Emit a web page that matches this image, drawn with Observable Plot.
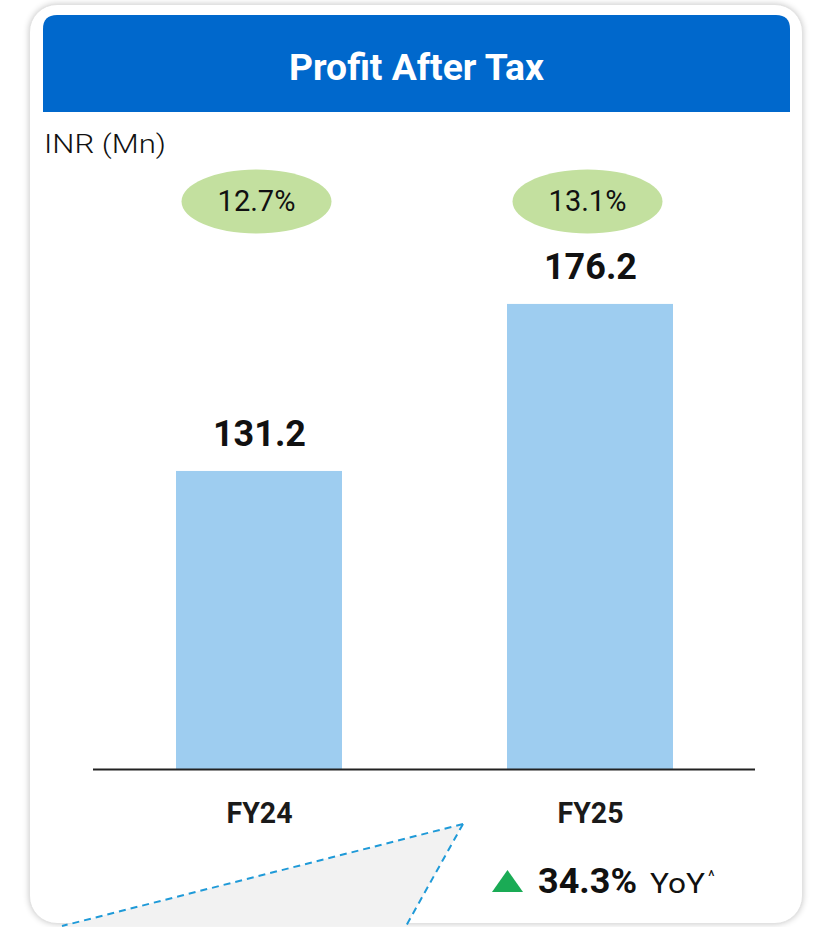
<!DOCTYPE html>
<html>
<head>
<meta charset="utf-8">
<script src="https://cdn.jsdelivr.net/npm/d3@7"></script>
<script src="https://cdn.jsdelivr.net/npm/@observablehq/plot@0.6"></script>
<style>
  html, body { margin: 0; padding: 0; background: #fff; }
  #wrap { position: relative; width: 815px; height: 927px; overflow: hidden; font-family: Roboto, "Noto Sans", sans-serif; }
  #card { position: absolute; left: 29px; top: 4px; width: 774px; height: 920px; border-radius: 28px;
          background: #fff; border: 1px solid #e2e2e2; box-shadow: 0 0 6px rgba(0,0,0,0.22); box-sizing: border-box; }
  #deco, #chart { position: absolute; left: 0; top: 0; }
</style>
</head>
<body>
<div id="wrap">
  <div id="card"></div>
  <svg id="deco" width="815" height="927" xmlns="http://www.w3.org/2000/svg"></svg>
  <div id="chart"></div>
</div>
<script>
// ---- data ----
const title = "Profit After Tax";
const unitLabel = "INR (Mn)";
const categories = ["FY24", "FY25"];
const values = [131.2, 176.2];
const marginLabels = ["12.7%", "13.1%"];
const yoyValue = "34.3%";
const yoyText = "YoY";
const yoyNote = "^";
// y axis is not zero-based in the original (bars drawn from a truncated base)
const yBase = 50.9;
const yTop = 204.2;

const data = categories.map((c, i) => ({cat: c, value: values[i], margin: marginLabels[i]}));

// ---- decoration (card header, unit, callout, yoy) ----
const deco = d3.select("#deco");
// callout (behind)
deco.append("polygon")
  .attr("points", "463,824 62,926 406,926")
  .attr("fill", "#f2f2f2");
deco.append("line").attr("x1", 463).attr("y1", 824).attr("x2", 62).attr("y2", 926)
  .attr("stroke", "#1f9ad8").attr("stroke-width", 2).attr("stroke-dasharray", "7,5");
deco.append("line").attr("x1", 463).attr("y1", 824).attr("x2", 406).attr("y2", 926)
  .attr("stroke", "#1f9ad8").attr("stroke-width", 2).attr("stroke-dasharray", "7,5");
// header
deco.append("path")
  .attr("d", "M43,112 L43,29 Q43,15 57,15 L776,15 Q790,15 790,29 L790,112 Z")
  .attr("fill", "#0068cc");
deco.append("text").text(title)
  .attr("x", 416.5).attr("y", 80).attr("text-anchor", "middle")
  .attr("font-family", "Roboto").attr("font-weight", "bold").attr("font-size", 36)
  .attr("fill", "#fff").attr("textLength", 255).attr("lengthAdjust", "spacingAndGlyphs");
deco.append("text").text(unitLabel)
  .attr("x", 44).attr("y", 153)
  .attr("font-family", "Roboto").attr("font-weight", 300).attr("font-size", 26)
  .attr("fill", "#111").attr("textLength", 122).attr("lengthAdjust", "spacingAndGlyphs");
// yoy
deco.append("polygon").attr("points", "492,892 507.5,870 523,892").attr("fill", "#1aab55");
deco.append("text").text(yoyValue)
  .attr("x", 538).attr("y", 893)
  .attr("font-family", "Roboto").attr("font-weight", "bold").attr("font-size", 35)
  .attr("fill", "#111").attr("textLength", 99).attr("lengthAdjust", "spacingAndGlyphs");
deco.append("text").text(yoyText)
  .attr("x", 650).attr("y", 893)
  .attr("font-family", "Roboto").attr("font-size", 28)
  .attr("fill", "#111").attr("textLength", 55).attr("lengthAdjust", "spacingAndGlyphs");
deco.append("text").text(yoyNote)
  .attr("x", 708).attr("y", 882)
  .attr("font-family", "Roboto").attr("font-size", 16)
  .attr("fill", "#111");

// ---- ellipse symbol for margin badges ----
const ellipse = {
  draw(context) {
    const rx = 75, ry = 32, k = 0.5523;
    context.moveTo(rx, 0);
    context.bezierCurveTo(rx, ry * k, rx * k, ry, 0, ry);
    context.bezierCurveTo(-rx * k, ry, -rx, ry * k, -rx, 0);
    context.bezierCurveTo(-rx, -ry * k, -rx * k, -ry, 0, -ry);
    context.bezierCurveTo(rx * k, -ry, rx, -ry * k, rx, 0);
    context.closePath();
  }
};

// ---- chart ----
const chart = Plot.plot({
  width: 815,
  height: 927,
  marginLeft: 93,
  marginRight: 60,
  marginTop: 200,
  marginBottom: 158,
  style: {background: "transparent", fontFamily: "Roboto", overflow: "visible"},
  x: {domain: categories, paddingInner: 0.5, paddingOuter: 0.25, label: null},
  y: {domain: [yBase, yTop], axis: null},
  marks: [
    Plot.barY(data, {x: "cat", y1: yBase, y2: "value", fill: "#9ecdf0"}),
    Plot.ruleY([yBase], {stroke: "#222", strokeWidth: 2}),
    Plot.text(data, {x: "cat", y: "value", text: d => d.value.toFixed(1), lineAnchor: "bottom",
      dy: -25, fontSize: 36, fontWeight: "bold", fill: "#111"}),
    Plot.dot(data, {x: "cat", frameAnchor: "top", dx: -3, dy: 1, r: 10, symbol: ellipse, fill: "#c3e09f", stroke: "none"}),
    Plot.text(data, {x: "cat", frameAnchor: "top", lineAnchor: "middle", dx: -3, dy: 1, text: "margin", fontSize: 29, fill: "#111"}),
    Plot.axisX({tickSize: 0, tickPadding: 33, fontSize: 29, fontWeight: "bold", fill: "#1a1a1a", label: null})
  ]
});
document.getElementById("chart").appendChild(chart);
// compress the x-axis tick labels like the condensed face in the original
d3.select(chart).selectAll("[aria-label='x-axis tick label'] text")
  .attr("textLength", 66).attr("lengthAdjust", "spacingAndGlyphs");
</script>
</body>
</html>
